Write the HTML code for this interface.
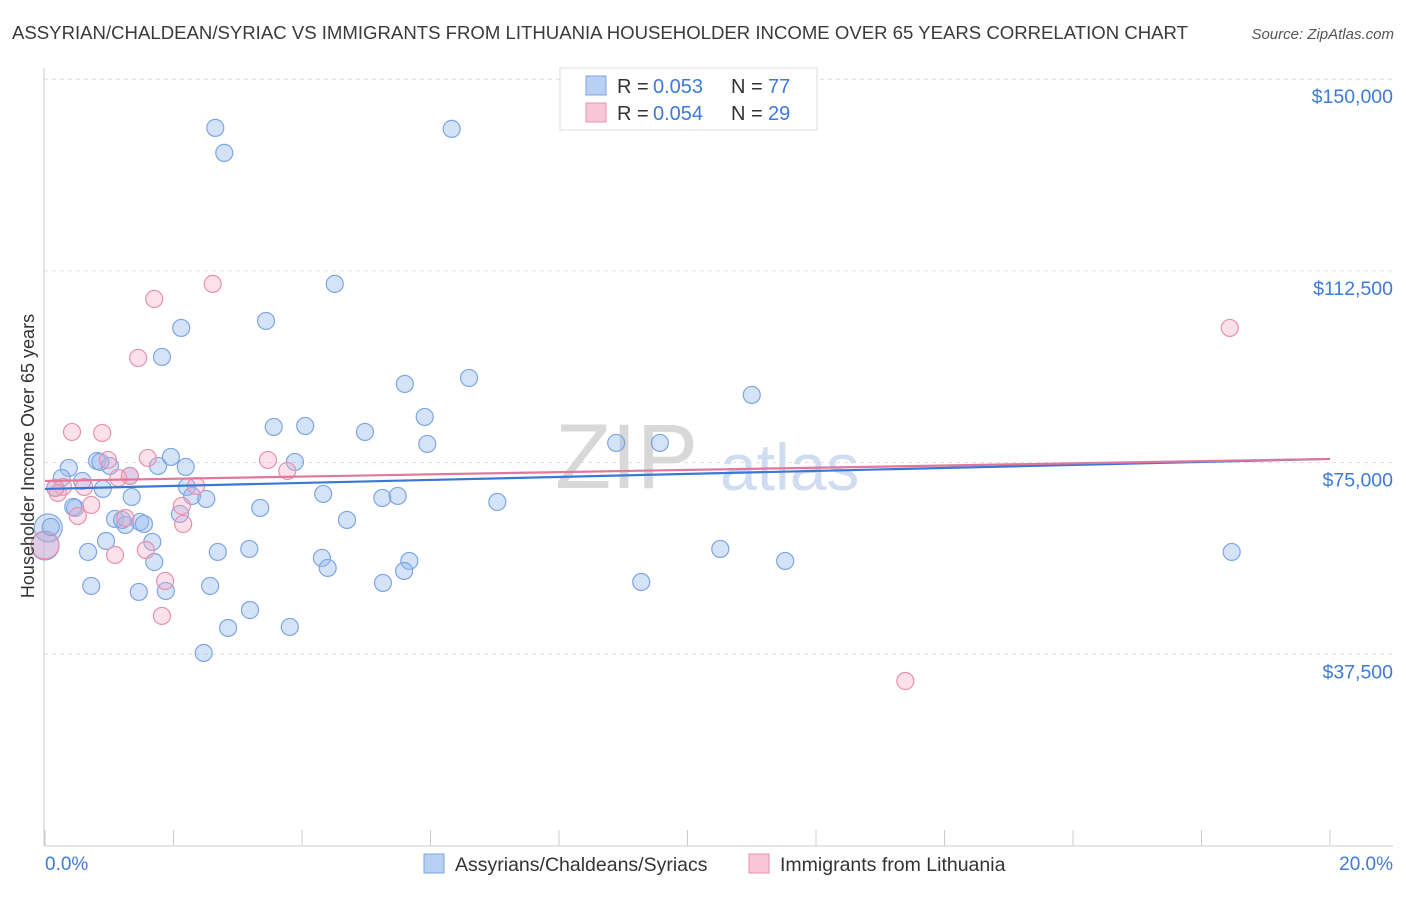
<!DOCTYPE html>
<html><head><meta charset="utf-8"><style>
body{margin:0;background:#fff;font-family:"Liberation Sans",sans-serif;}
svg text{font-family:"Liberation Sans",sans-serif;}
</style></head><body>
<svg id="chart" width="1406" height="892" xmlns="http://www.w3.org/2000/svg">
<text x="12" y="39" font-size="18.6" fill="#3a3a3a" textLength="1176" lengthAdjust="spacingAndGlyphs">ASSYRIAN/CHALDEAN/SYRIAC VS IMMIGRANTS FROM LITHUANIA HOUSEHOLDER INCOME OVER 65 YEARS CORRELATION CHART</text>
<text x="1394" y="39" font-size="15" fill="#555" font-style="italic" text-anchor="end">Source: ZipAtlas.com</text>
<g id="grid"></g>
<text x="555" y="488" font-size="92" fill="#d8d8d8" font-family="Liberation Serif">ZIP</text>
<text x="720" y="490" font-size="66" fill="#cfdcf2">atlas</text>
<g id="points"></g>
<g id="lines"></g>
<text transform="translate(34,456) rotate(-90)" font-size="18" fill="#333" text-anchor="middle">Householder Income Over 65 years</text>
<text x="45" y="870" font-size="19" fill="#3d7bd8">0.0%</text>
<text x="1393" y="870" font-size="19" fill="#3d7bd8" text-anchor="end">20.0%</text>
<g>
<rect x="560" y="68" width="257" height="62" fill="#fff" stroke="#ddd"/>
<rect x="586" y="76" width="20" height="19" fill="#b8d0f3" stroke="#7da6e0"/>
<rect x="586" y="103" width="20" height="19" fill="#f8c6d6" stroke="#e891ae"/>
<text y="93" font-size="20" fill="#333"><tspan x="617">R =</tspan><tspan x="653" fill="#3d7bd8">0.053</tspan><tspan x="731">N =</tspan><tspan x="768" fill="#3d7bd8">77</tspan></text>
<text y="120" font-size="20" fill="#333"><tspan x="617">R =</tspan><tspan x="653" fill="#3d7bd8">0.054</tspan><tspan x="731">N =</tspan><tspan x="768" fill="#3d7bd8">29</tspan></text>
</g>
<g>
<rect x="424" y="854" width="20" height="19" fill="#b8d0f3" stroke="#7da6e0"/>
<text x="455" y="871" font-size="19.5" fill="#333">Assyrians/Chaldeans/Syriacs</text>
<rect x="749" y="854" width="20" height="19" fill="#f8c6d6" stroke="#e891ae"/>
<text x="780" y="871" font-size="19.5" fill="#333">Immigrants from Lithuania</text>
</g>
</svg>
<script>
const yTicks=[37500,75000,112500,150000];
const yTickLabels=["$37,500","$75,000","$112,500","$150,000"];
const xTicks=[0,2,4,6,8,10,12,14,16,18,20];
const blueX=[2.65,2.79,6.33,4.51,3.44,2.12,1.82,5.60,6.60,11.00,5.91,3.56,4.05,4.98,5.95,8.89,9.57,0.37,0.81,1.01,1.76,1.96,2.19,3.89,0.26,0.58,0.16,0.90,1.35,2.21,2.29,2.51,4.33,5.25,5.49,7.04,0.47,1.09,1.25,1.48,1.54,2.10,3.35,4.70,0.09,0.95,1.67,0.67,2.69,3.18,4.31,1.70,4.40,5.67,10.51,11.52,18.47,0.72,1.46,1.88,2.57,5.26,5.59,9.28,3.19,2.85,3.81,2.47,1.20,0.44,1.32,0.86];
const blueY=[140475,135585,140280,109955,102716,101347,95673,90390,91564,88238,83934,81977,82173,81000,78650,78850,78850,73956,75325,74347,74347,76108,74152,75130,72000,71410,70040,69850,68280,70240,68480,67890,68870,68090,68480,67300,66130,63980,62800,63390,63000,64960,66130,63780,62410,59670,59480,57520,57520,58110,56350,55560,54390,55760,58110,55760,57520,50870,49700,49890,50870,51460,53800,51650,46170,42650,42850,37760,63780,66330,72390,75130];
const pinkX=[2.61,1.70,18.44,1.45,0.42,0.89,1.60,3.47,0.98,1.32,3.77,1.14,0.28,0.61,2.35,0.20,0.72,2.13,0.51,1.25,2.15,1.57,1.09,1.87,1.82,13.39,0.16];
const pinkY=[109955,107020,101347,95477,81000,80800,75910,75520,75520,72390,73370,72000,70240,70240,70430,69060,66720,66520,64560,64170,63000,57910,56930,51850,45000,32280,70040];
const bigX=[0.0,0.05,0.0];
const bigY=[58700,62220,58890];
const blueTrend=[69850,75720];
const pinkTrend=[71410,75720];
const X0=45,X1=1330,Y0=846,YPER=191.7/37500;
const sx=v=>X0+(X1-X0)*v/20;
const sy=v=>Y0-v*YPER;
const NS="http://www.w3.org/2000/svg";
function mk(tag,attrs,parent){const e=document.createElementNS(NS,tag);for(const k in attrs)e.setAttribute(k,attrs[k]);parent.appendChild(e);return e;}
const grid=document.getElementById('grid');
const ax=mk('line',{x1:44,y1:68,x2:44,y2:846,stroke:'#ccc'},grid);


const bx=mk('line',{x1:44,y1:846,x2:1393,y2:846,stroke:'#ccc'},grid);


yTicks.forEach((t,i)=>{
 const g=mk('line',{x1:44,x2:1393,y1:sy(t),y2:sy(t),stroke:'#ddd','stroke-dasharray':'4,4'},grid);
 
 
 const tx=mk('text',{x:1393,y:sy(t)+24,'font-size':19.5,fill:'#3d7bd8','text-anchor':'end'},grid);
 tx.textContent=yTickLabels[i];
 
 
});
xTicks.forEach(t=>{
 const l=mk('line',{x1:sx(t),x2:sx(t),y1:830,y2:846,stroke:'#ccc'},grid);
 
 
});
const pts=document.getElementById('points');
bigX.forEach((x,i)=>{
 const c=mk('circle',{cx:sx(x),cy:sy(bigY[i]),r:14,fill:i<2?'rgba(150,185,240,0.4)':'rgba(240,160,190,0.35)',stroke:i<2?'#7da6e0':'#e891ae','stroke-width':1.2},pts);
 
 
});
blueX.forEach((x,i)=>{
 const c=mk('circle',{cx:sx(x),cy:sy(blueY[i]),r:8.5,fill:'rgba(150,185,240,0.4)',stroke:'#7da6e0','stroke-width':1.2},pts);
 
 
});
pinkX.forEach((x,i)=>{
 const c=mk('circle',{cx:sx(x),cy:sy(pinkY[i]),r:8.5,fill:'rgba(245,170,195,0.35)',stroke:'#e891ae','stroke-width':1.2},pts);
 
 
});
const ln=document.getElementById('lines');
const bl=mk('line',{x1:sx(0),x2:sx(20),y1:sy(blueTrend[0]),y2:sy(blueTrend[1]),stroke:'#3a78d6','stroke-width':2.2},ln);


const pl=mk('line',{x1:sx(0),x2:sx(20),y1:sy(pinkTrend[0]),y2:sy(pinkTrend[1]),stroke:'#e0779c','stroke-width':2.2},ln);


</script>
</body></html>
